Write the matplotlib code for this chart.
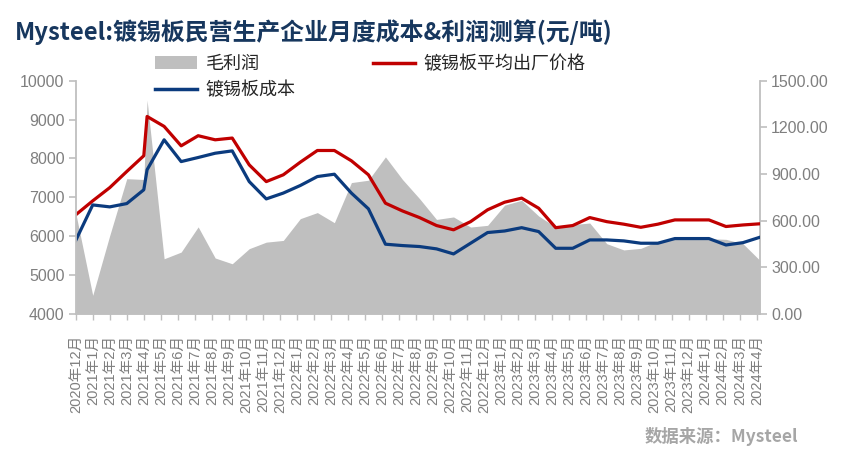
import pandas as pd
import matplotlib.pyplot as plt
from matplotlib.patches import Patch
from matplotlib.lines import Line2D
from matplotlib.ticker import FormatStrFormatter

plt.rcParams['font.family'] = ['Liberation Sans', 'Noto Sans CJK SC']

# record dates: month starts up to 2021-04, then the 7th of every month
dates = list(pd.date_range('2020-12-01', '2021-04-01', freq='MS')) + \
    list(pd.date_range('2021-04-01', '2024-04-01', freq='MS') + pd.Timedelta(days=6))

# 镀锡板平均出厂价格 (元/吨, left axis)
price = [6550, 6910, 7250, 7665, 8070, 9080, 8825, 8325, 8585, 8480, 8525,
         7835, 7405, 7580, 7905, 8205, 8205, 7940, 7580, 6850, 6650,
         6480, 6275, 6165, 6375, 6680, 6875, 6980, 6720, 6220, 6275,
         6480, 6375, 6310, 6230, 6310, 6420, 6420, 6420, 6250, 6290, 6320]

# 镀锡板成本 (元/吨, left axis)
cost = [5890, 6805, 6755, 6840, 7195, 7710, 8480, 7920, 8025, 8135, 8195,
        7405, 6960, 7110, 7305, 7535, 7595, 7110, 6705, 5795, 5760,
        5735, 5675, 5545, 5820, 6095, 6135, 6220, 6120, 5690, 5690,
        5905, 5905, 5880, 5820, 5820, 5940, 5940, 5940, 5775, 5835, 5975]

# 毛利润 (元/吨, right axis)
profit = [650, 120, 505, 870, 865, 1375, 355, 398, 560, 360, 323,
          420, 462, 473, 613, 652, 587, 845, 860, 1010, 865,
          742, 608, 624, 559, 570, 700, 731, 630, 559, 575,
          585, 452, 412, 422, 467, 484, 484, 484, 480, 452, 344]

months = pd.date_range('2020-12-01', '2024-04-01', freq='MS')
month_labels = [f'{d.year}年{d.month}月' for d in months]

start = months[0]
x = [(d.year - start.year) * 12 + d.month - start.month + (d.day - 1) / 31 for d in dates]

GRID = '#BFBFBF'
LABEL = '#7F7F7F'

fig = plt.figure(figsize=(8.43, 4.55), dpi=100)
ax = fig.add_axes([75.7 / 843, 1 - 314 / 455, (760 - 75.7) / 843, (314 - 80.7) / 455])
ax2 = ax.twinx()
ax.set_zorder(ax2.get_zorder() + 1)
ax.patch.set_visible(False)

ax2.fill_between(x, profit, 0, color='#BFBFBF', lw=0)
ax.plot(x, price, color='#C00000', lw=2.3, solid_joinstyle='round')
ax.plot(x, cost, color='#0B3B7E', lw=2.3, solid_joinstyle='round')

ax.set_xlim(0, x[-1])
ax.set_ylim(4000, 10000)
ax2.set_ylim(0, 1500)
ax.set_yticks(range(4000, 10001, 1000))
ax2.set_yticks(range(0, 1501, 300))
ax2.yaxis.set_major_formatter(FormatStrFormatter('%.2f'))
ax.set_xticks(range(len(month_labels)))
ax.set_xticklabels(month_labels, rotation=90)

for a in (ax, ax2):
    for s in a.spines.values():
        s.set_visible(False)
ax.spines['left'].set_visible(True)
ax.spines['bottom'].set_visible(True)
ax2.spines['right'].set_visible(True)
for s in (ax.spines['left'], ax.spines['bottom'], ax2.spines['right']):
    s.set_color(GRID)
    s.set_linewidth(1.3)

ax.tick_params(axis='y', direction='out', length=5, width=1.2, color=GRID,
               labelcolor=LABEL, labelsize=11.5, pad=3)
ax2.tick_params(axis='y', direction='out', length=5, width=1.2, color=GRID,
                labelcolor=LABEL, labelsize=11.5, pad=3)
ax.tick_params(axis='x', direction='out', length=4, width=1.0, color=GRID,
               labelcolor=LABEL, labelsize=10.5, pad=11)

fig.text(15 / 843, 1 - 32 / 455, 'Mysteel:镀锡板民营生产企业月度成本&利润测算(元/吨)',
         fontsize=17.2, fontweight='bold', color='#17375E', ha='left', va='center',
         family=['Noto Sans CJK SC'])

handles = [Patch(color='#BFBFBF', lw=0),
           Line2D([], [], color='#0B3B7E', lw=2.5),
           Line2D([], [], color='#C00000', lw=2.5)]
labels = ['毛利润', '镀锡板成本', '镀锡板平均出厂价格']
fig.legend(handles, labels, ncol=2, loc='upper left', bbox_to_anchor=(155 / 843, 1 - 55 / 455),
           frameon=False, borderaxespad=0, borderpad=0, handlelength=2.3, handletextpad=0.5,
           columnspacing=4.3, labelspacing=0.45,
           prop={'family': 'Noto Sans CJK SC', 'size': 13}, labelcolor='#262626')

fig.text(798 / 843, 1 - 437 / 455, '数据来源：Mysteel', fontsize=12.5, fontweight='bold',
         color='#A6A6A6', ha='right', va='center', family=['Noto Sans CJK SC'])

fig.savefig('out.png', dpi=100)
